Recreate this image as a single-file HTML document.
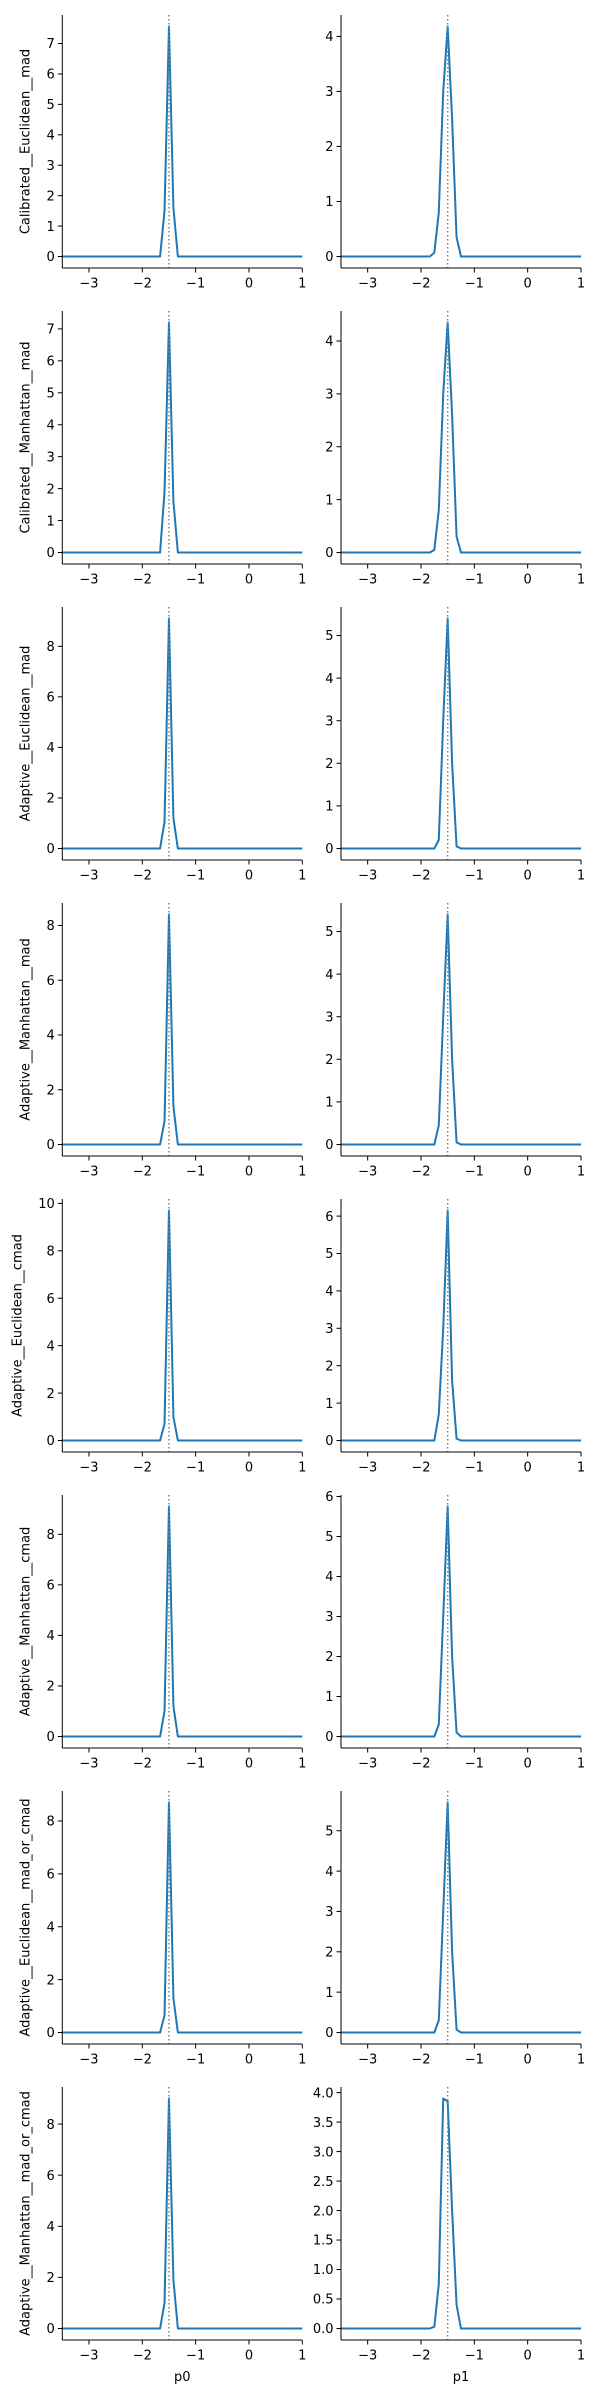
<!DOCTYPE html>
<html><head><meta charset="utf-8"><style>
html,body{margin:0;padding:0;background:#fff;}
svg{display:block;font-family:"DejaVu Sans","Liberation Sans",sans-serif;}
</style></head><body>
<svg id="chart" width="600" height="2400" viewBox="0 0 600 2400" xmlns="http://www.w3.org/2000/svg"></svg>
<script>
// x grid: -3.5 to 1 in steps of 1/12 (55 points)
const xCount = 55;
const xMin = -3.5, xMax = 1;
const refX = -1.5;
const xTicks = [-3, -2, -1, 0, 1];
const xTickLabels = ["\u22123", "\u22122", "\u22121", "0", "1"];
const rowLabels = ["Calibrated__Euclidean__mad","Calibrated__Manhattan__mad","Adaptive__Euclidean__mad","Adaptive__Manhattan__mad","Adaptive__Euclidean__cmad","Adaptive__Manhattan__cmad","Adaptive__Euclidean__mad_or_cmad","Adaptive__Manhattan__mad_or_cmad"];
const colLabels = ["p0", "p1"];

const s1L = [0,0,0,0,0,0,0,0,0,0,0,0,0,0,0,0,0,0,0,0, 0,0,0,1.5,7.56,1.6,0,0,0, 0,0,0,0,0,0,0,0,0,0,0,0,0,0,0,0,0,0,0,0,0,0,0,0,0,0];
const s1R = [0,0,0,0,0,0,0,0,0,0,0,0,0,0,0,0,0,0,0,0, 0,0.07,0.8,3.0,4.18,2.5,0.35,0,0, 0,0,0,0,0,0,0,0,0,0,0,0,0,0,0,0,0,0,0,0,0,0,0,0,0,0];
const s2L = [0,0,0,0,0,0,0,0,0,0,0,0,0,0,0,0,0,0,0,0, 0,0,0,1.9,7.2,1.6,0,0,0, 0,0,0,0,0,0,0,0,0,0,0,0,0,0,0,0,0,0,0,0,0,0,0,0,0,0];
const s2R = [0,0,0,0,0,0,0,0,0,0,0,0,0,0,0,0,0,0,0,0, 0,0.05,0.8,3.0,4.35,2.6,0.3,0,0, 0,0,0,0,0,0,0,0,0,0,0,0,0,0,0,0,0,0,0,0,0,0,0,0,0,0];
const s3L = [0,0,0,0,0,0,0,0,0,0,0,0,0,0,0,0,0,0,0,0, 0,0,0,1.05,9.1,1.2,0,0,0, 0,0,0,0,0,0,0,0,0,0,0,0,0,0,0,0,0,0,0,0,0,0,0,0,0,0];
const s3R = [0,0,0,0,0,0,0,0,0,0,0,0,0,0,0,0,0,0,0,0, 0,0,0.2,3.0,5.4,2.0,0.05,0,0, 0,0,0,0,0,0,0,0,0,0,0,0,0,0,0,0,0,0,0,0,0,0,0,0,0,0];
const s4L = [0,0,0,0,0,0,0,0,0,0,0,0,0,0,0,0,0,0,0,0, 0,0,0,0.85,8.4,1.4,0,0,0, 0,0,0,0,0,0,0,0,0,0,0,0,0,0,0,0,0,0,0,0,0,0,0,0,0,0];
const s4R = [0,0,0,0,0,0,0,0,0,0,0,0,0,0,0,0,0,0,0,0, 0,0,0.45,3.0,5.4,2.0,0.05,0,0, 0,0,0,0,0,0,0,0,0,0,0,0,0,0,0,0,0,0,0,0,0,0,0,0,0,0];
const s5L = [0,0,0,0,0,0,0,0,0,0,0,0,0,0,0,0,0,0,0,0, 0,0,0,0.7,9.7,1.0,0,0,0, 0,0,0,0,0,0,0,0,0,0,0,0,0,0,0,0,0,0,0,0,0,0,0,0,0,0];
const s5R = [0,0,0,0,0,0,0,0,0,0,0,0,0,0,0,0,0,0,0,0, 0,0,0.7,3.0,6.15,1.6,0.05,0,0, 0,0,0,0,0,0,0,0,0,0,0,0,0,0,0,0,0,0,0,0,0,0,0,0,0,0];
const s6L = [0,0,0,0,0,0,0,0,0,0,0,0,0,0,0,0,0,0,0,0, 0,0,0,1.0,9.1,1.2,0,0,0, 0,0,0,0,0,0,0,0,0,0,0,0,0,0,0,0,0,0,0,0,0,0,0,0,0,0];
const s6R = [0,0,0,0,0,0,0,0,0,0,0,0,0,0,0,0,0,0,0,0, 0,0,0.3,3.0,5.75,2.0,0.1,0,0, 0,0,0,0,0,0,0,0,0,0,0,0,0,0,0,0,0,0,0,0,0,0,0,0,0,0];
const s7L = [0,0,0,0,0,0,0,0,0,0,0,0,0,0,0,0,0,0,0,0, 0,0,0,0.65,8.7,1.3,0,0,0, 0,0,0,0,0,0,0,0,0,0,0,0,0,0,0,0,0,0,0,0,0,0,0,0,0,0];
const s7R = [0,0,0,0,0,0,0,0,0,0,0,0,0,0,0,0,0,0,0,0, 0,0,0.3,3.0,5.7,2.0,0.07,0,0, 0,0,0,0,0,0,0,0,0,0,0,0,0,0,0,0,0,0,0,0,0,0,0,0,0,0];
const s8L = [0,0,0,0,0,0,0,0,0,0,0,0,0,0,0,0,0,0,0,0, 0,0,0,1.0,9.0,1.9,0,0,0, 0,0,0,0,0,0,0,0,0,0,0,0,0,0,0,0,0,0,0,0,0,0,0,0,0,0];
const s8R = [0,0,0,0,0,0,0,0,0,0,0,0,0,0,0,0,0,0,0,0, 0,0.03,0.75,3.9,3.85,2.0,0.4,0,0, 0,0,0,0,0,0,0,0,0,0,0,0,0,0,0,0,0,0,0,0,0,0,0,0,0,0];

const yT1L = [0,1,2,3,4,5,6,7], yT1R = [0,1,2,3,4];
const yT2L = [0,1,2,3,4,5,6,7], yT2R = [0,1,2,3,4];
const yT3L = [0,2,4,6,8], yT3R = [0,1,2,3,4,5];
const yT4L = [0,2,4,6,8], yT4R = [0,1,2,3,4,5];
const yT5L = [0,2,4,6,8,10], yT5R = [0,1,2,3,4,5,6];
const yT6L = [0,2,4,6,8], yT6R = [0,1,2,3,4,5,6];
const yT7L = [0,2,4,6,8], yT7R = [0,1,2,3,4,5];
const yT8L = [0,2,4,6,8], yT8R = [0,0.5,1,1.5,2,2.5,3,3.5,4];

const series = [[s1L,s1R],[s2L,s2R],[s3L,s3R],[s4L,s4R],[s5L,s5R],[s6L,s6R],[s7L,s7R],[s8L,s8R]];
const yTicks = [[yT1L,yT1R],[yT2L,yT2R],[yT3L,yT3R],[yT4L,yT4R],[yT5L,yT5R],[yT6L,yT6R],[yT7L,yT7R],[yT8L,yT8R]];

const NS = "http://www.w3.org/2000/svg";
const svg = document.getElementById("chart");
function mk(tag, attrs, parent) {
  const e = document.createElementNS(NS, tag);
  for (const k in attrs) e.setAttribute(k, attrs[k]);
  (parent || svg).appendChild(e);
  return e;
}
const colLeft = [62.3, 341];
const axW = 240, axH = 253, top0 = 15, rowStep = 296;
const FS = 13;

for (let r = 0; r < 8; r++) {
  for (let c = 0; c < 2; c++) {
    const vals = series[r][c];
    const ticks = yTicks[r][c];
    const L = colLeft[c], T = top0 + r * rowStep, B = T + axH, R = L + axW;
    const M = Math.max(...vals);
    const yLo = -0.05 * M, yHi = 1.05 * M;
    const sx = v => L + (v - xMin) / (xMax - xMin) * axW;
    const sy = v => B - (v - yLo) / (yHi - yLo) * axH;
    const g = mk("g", {});
    
    
    let d = "";
    for (let i = 0; i < vals.length; i++) {
      const xv = xMin + i / 12;
      d += (i ? "L" : "M") + sx(xv).toFixed(2) + "," + sy(vals[i]).toFixed(2);
    }
    const ln = mk("path", {d: d, fill: "none", stroke: "#1f77b4", "stroke-width": 2, "stroke-linejoin": "round"}, g);
    
    
    const vl = mk("line", {x1: sx(refX), x2: sx(refX), y1: T, y2: B, stroke: "#808080", "stroke-width": 1.5, "stroke-dasharray": "1.5,2.5"}, g);
    
    
    const ya = mk("line", {x1: L, x2: L, y1: T, y2: B, stroke: "#000", "stroke-width": 1}, g);
    
    
    const xa = mk("line", {x1: L, x2: R, y1: B, y2: B, stroke: "#000", "stroke-width": 1}, g);
    
    
    for (let i = 0; i < xTicks.length; i++) {
      const x = sx(xTicks[i]);
      mk("line", {x1: x, x2: x, y1: B, y2: B + 4.5, stroke: "#000", "stroke-width": 1}, g);
      const t = mk("text", {x: x, y: B + 19.5, "font-size": FS, "text-anchor": "middle", fill: "#000"}, g);
      
      
      t.textContent = xTickLabels[i];
    }
    for (let i = 0; i < ticks.length; i++) {
      const y = sy(ticks[i]);
      mk("line", {x1: L - 4.5, x2: L, y1: y, y2: y, stroke: "#000", "stroke-width": 1}, g);
      const t = mk("text", {x: L - 7.5, y: y + 4.7, "font-size": FS, "text-anchor": "end", fill: "#000"}, g);
      
      
      const lbl = (r === 7 && c === 1) ? ticks[i].toFixed(1) : String(ticks[i]);
      t.textContent = lbl;
    }
    if (c === 0) {
      const cx = (r === 4) ? 18 : 26, cy = (T + B) / 2;
      const t = mk("text", {x: cx, y: cy, "font-size": FS, "text-anchor": "middle", "dominant-baseline": "central", fill: "#000", transform: "rotate(-90 " + cx + " " + cy + ")"}, g);
      
      
      t.textContent = rowLabels[r];
    }
    if (r === 7) {
      const t = mk("text", {x: (L + R) / 2, y: B + 41, "font-size": FS, "text-anchor": "middle", fill: "#000"}, g);
      
      
      t.textContent = colLabels[c];
    }
  }
}
</script>
</body></html>
